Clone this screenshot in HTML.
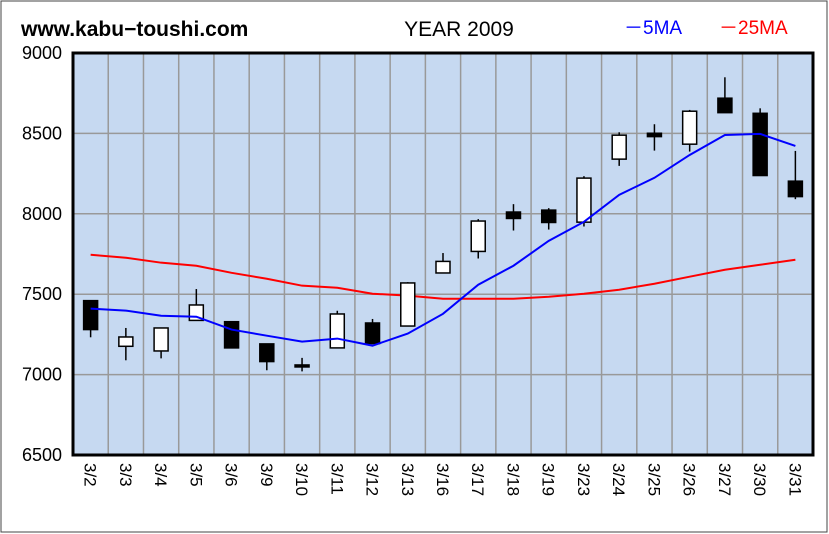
<!DOCTYPE html>
<html><head><meta charset="utf-8"><style>
body{margin:0;background:#fff;}
svg{display:block;font-family:"Liberation Sans",sans-serif;}
</style></head><body>
<svg id="chart" width="829" height="534">
<rect x="1" y="1" width="826" height="531" fill="#fff" stroke="#444" stroke-width="1"/>
<text x="21" y="36" font-size="21" font-weight="bold">www.kabu−toushi.com</text>
<text x="459" y="36" font-size="21" text-anchor="middle">YEAR 2009</text>
<text x="624" y="34" font-size="19" fill="#0000ff">－5MA</text>
<text x="719" y="34" font-size="19" fill="#ff0000">－25MA</text>
<g id="plot"></g>
</svg>
<script>
const categories=["3/2","3/3","3/4","3/5","3/6","3/9","3/10","3/11","3/12","3/13","3/16","3/17","3/18","3/19","3/23","3/24","3/25","3/26","3/27","3/30","3/31"];
const opens=[7460,7176,7147,7337,7329,7191,7060,7166,7321,7302,7632,7766,8011,8023,7948,8340,8501,8433,8719,8625,8203];
const highs=[7460,7290,7290,7532,7329,7191,7104,7397,7346,7575,7756,7967,8060,8035,8234,8507,8557,8646,8849,8656,8391];
const lows=[7232,7089,7101,7337,7166,7027,7020,7166,7193,7302,7632,7722,7896,7902,7921,8298,8393,8387,8629,8238,8091];
const closes=[7280,7234,7290,7433,7166,7081,7050,7377,7193,7570,7704,7955,7971,7946,8222,8489,8480,8638,8629,8238,8107];
const ma5=[7410,7398,7366,7360,7280,7242,7205,7224,7180,7255,7378,7559,7677,7832,7950,8118,8224,8366,8490,8497,8422];
const ma25=[7745,7727,7696,7677,7633,7596,7553,7540,7503,7491,7472,7472,7472,7484,7503,7528,7565,7609,7652,7683,7714];
const yTicks=[6500,7000,7500,8000,8500,9000];
const L=73,R=813,T=53,B=455,yMin=6500,yMax=9000;
const step=(R-L)/categories.length;
const xc=i=>L+step*(i+0.5);
const y=v=>B-(v-yMin)/(yMax-yMin)*(B-T);
const NS="http://www.w3.org/2000/svg";
const g=document.getElementById('plot');
function mk(tag,attrs,parent){const e=document.createElementNS(NS,tag);for(const k in attrs)e.setAttribute(k,attrs[k]);(parent||g).appendChild(e);return e;}
let e=mk('rect',{x:L,y:T,width:R-L,height:B-T,fill:'#c6d9f1'});


for(let i=1;i<categories.length;i++){
 e=mk('line',{x1:L+step*i,x2:L+step*i,y1:T,y2:B,stroke:'#999','stroke-width':1.5});
 
 
}
yTicks.forEach(v=>{
 if(v>yMin&&v<yMax){e=mk('line',{x1:L,x2:R,y1:y(v),y2:y(v),stroke:'#999','stroke-width':1.5});
 
 }
 e=mk('text',{x:62,y:y(v)+6,'font-size':18,'text-anchor':'end'});
 e.textContent=v;
 
 
});
categories.forEach((c,i)=>{
 e=mk('text',{transform:`translate(${xc(i)-6},463) rotate(90)`,'font-size':17});
 e.textContent=c;
 
 
});
function line(arr,color,name){
 e=mk('polyline',{points:arr.map((v,i)=>xc(i)+','+y(v)).join(' '),fill:'none',stroke:color,'stroke-width':2});
 
 
}
line(ma25,'#ff0000','ma25-line');
categories.forEach((c,i)=>{
 const o=opens[i],cl=closes[i],x=xc(i);
 e=mk('line',{x1:x,x2:x,y1:y(highs[i]),y2:y(lows[i]),stroke:'#000','stroke-width':1.5});
 
 
 const top=y(Math.max(o,cl)),h=Math.max(2,Math.abs(y(o)-y(cl)));
 e=mk('rect',{x:x-7,y:top,width:14,height:h,fill:cl>=o?'#fff':'#000',stroke:'#000','stroke-width':1.5});
 
 
});
line(ma5,'#0000ff','ma5-line');
e=mk('rect',{x:L,y:T,width:R-L,height:B-T,fill:'none',stroke:'#000','stroke-width':3});


</script>
</body></html>
